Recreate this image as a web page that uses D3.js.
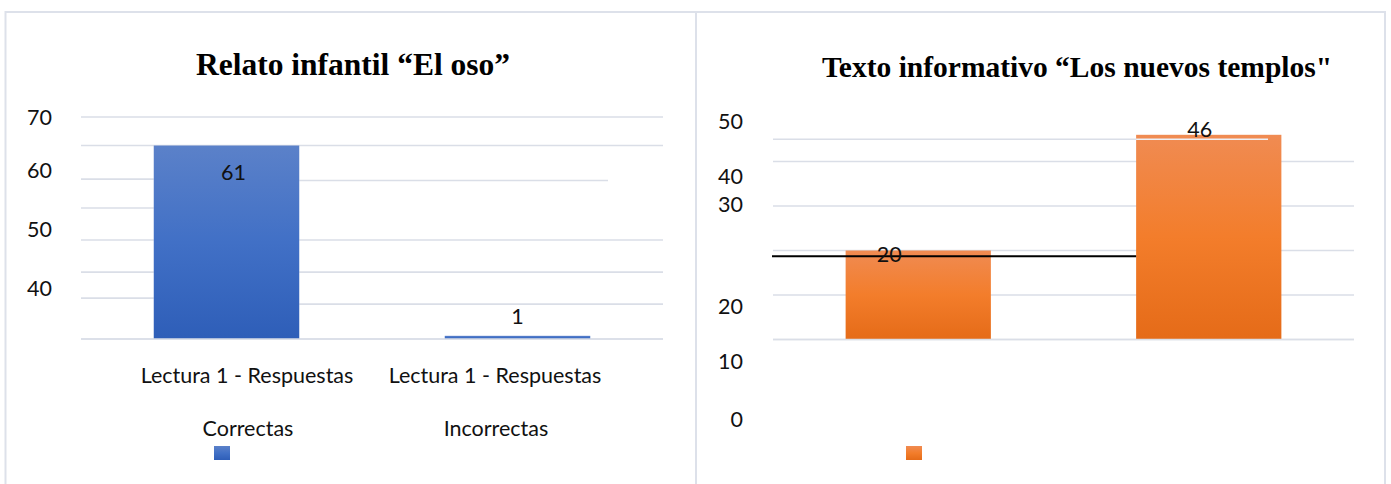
<!DOCTYPE html>
<html>
<head>
<meta charset="utf-8">
<script src="https://cdn.jsdelivr.net/npm/d3@7"></script>
<style>
  html, body { margin: 0; padding: 0; background: #fff; }
  svg { display: block; }
  .lbl { font-family: Lato, "Open Sans", sans-serif; font-size: 21.5px; fill: #111; }
  .title { font-family: "Liberation Serif", "Times New Roman", serif; font-weight: bold; fill: #000; }
  .grid { stroke: #dadee7; stroke-width: 1.6; }
</style>
</head>
<body>
<svg id="svg" width="1391" height="484"></svg>
<script>
// datos: gráfico izquierdo
const osoTitle = 'Relato infantil “El oso”';
const osoCategories = ['Correctas', 'Incorrectas'];
const osoLine1 = 'Lectura 1 - Respuestas';
const osoValues = [61, 1];
const osoTicks = [70, 60, 50, 40];
const osoGridLeft = [70, 61, 50.4, 41.3, 31.2, 21.1, 12.9, 0];
const osoGridRight = [70, 61, 50, 31.2, 21.1, 11, 0];

// datos: gráfico derecho
const templosTitle = 'Texto informativo “Los nuevos templos"';
const templosCategories = ['A', 'B'];
const templosValues = [20, 46];
const templosTicks = [50, 40, 30, 20, 10, 0];
const templosGrid = [40, 30, 20, 10, 0];
const templosOddLine = 45;
const templosBlackLine = 18.7;

const svg = d3.select('#svg');
const defs = svg.append('defs');

function gradient(id, stops) {
  const g = defs.append('linearGradient').attr('id', id)
    .attr('x1', 0).attr('y1', 0).attr('x2', 0).attr('y2', 1);
  stops.forEach(s => g.append('stop').attr('offset', s[0]).attr('stop-color', s[1]));
}
gradient('blue', [[0, '#5b81c9'], [0.5, '#4170c6'], [1, '#2e5eb8']]);
gradient('orange', [[0, '#f08b52'], [0.5, '#f37d2b'], [1, '#e56b18']]);

// marcos
svg.append('path')
  .attr('d', 'M5.5,484 V12 H1385 V484 M696,12 V484')
  .attr('fill', 'none').attr('stroke', '#dde1ea').attr('stroke-width', 2);

// ---------- gráfico izquierdo ----------
{
  const x = d3.scaleBand().domain(osoCategories).range([81, 663]).paddingInner(0.5).paddingOuter(0.25);
  const y = d3.scaleLinear().domain([0, 70]).range([339, 117]);
  const labelY = d3.scaleLinear().domain([40, 50, 60, 70]).range([288, 229, 170, 117]);
  const catX = d3.scalePoint().domain(osoCategories).range([247, 495]);
  const barL = x(osoCategories[0]), barR = barL + x.bandwidth();

  // rejilla (partida a ambos lados de la barra)
  svg.selectAll('.gl').data(osoGridLeft).join('line').attr('class', 'grid')
    .attr('x1', 81).attr('x2', d => d === 70 || d === 61 || d === 0 ? 663 : barL)
    .attr('y1', d => y(d)).attr('y2', d => y(d));
  svg.selectAll('.gr').data(osoGridRight.filter(d => d !== 70 && d !== 61 && d !== 0)).join('line').attr('class', 'grid')
    .attr('x1', barR).attr('x2', d => d === 50 ? 608 : 663)
    .attr('y1', d => y(d)).attr('y2', d => y(d));

  svg.selectAll('.bo').data(osoValues).join('rect')
    .attr('x', (d, i) => x(osoCategories[i]))
    .attr('width', x.bandwidth())
    .attr('y', d => y(d)).attr('height', d => y(0) - y(d))
    .attr('fill', 'url(#blue)');
  svg.append('line').attr('class', 'grid').attr('x1', 81).attr('x2', 663).attr('y1', y(0)).attr('y2', y(0));

  svg.selectAll('.to').data(osoTicks).join('text').attr('class', 'lbl')
    .attr('x', 52).attr('y', d => labelY(d)).attr('dy', '0.35em')
    .attr('text-anchor', 'end').text(d => d);

  const valOffset = [[7, 27], [0, -19]];
  svg.selectAll('.vo').data(osoValues).join('text').attr('class', 'lbl')
    .attr('x', (d, i) => x(osoCategories[i]) + x.bandwidth() / 2 + valOffset[i][0])
    .attr('y', (d, i) => y(d) + valOffset[i][1]).attr('dy', '0.35em')
    .attr('text-anchor', 'middle').text(d => d);

  osoCategories.forEach(c => {
    svg.append('text').attr('class', 'lbl').attr('x', catX(c)).attr('y', 375).attr('dy', '0.35em')
      .attr('text-anchor', 'middle').text(osoLine1);
    svg.append('text').attr('class', 'lbl').attr('x', catX(c) + 1).attr('y', 428).attr('dy', '0.35em')
      .attr('text-anchor', 'middle').text(c);
  });

  svg.append('rect').attr('x', 214).attr('y', 446).attr('width', 16).attr('height', 14).attr('fill', 'url(#blue)');
  svg.append('text').attr('class', 'title').attr('x', 353).attr('y', 75)
    .attr('text-anchor', 'middle').style('font-size', '31.5px').text(osoTitle);
}

// ---------- gráfico derecho ----------
{
  const x = d3.scaleBand().domain(templosCategories).range([773, 1354]).paddingInner(0.5).paddingOuter(0.25);
  const y = d3.scaleLinear().domain([0, 50]).range([339.5, 117]);
  const labelY = d3.scaleLinear().domain([0, 10, 20, 30, 40, 50]).range([419, 361, 306, 204, 176, 121]);

  svg.selectAll('.gt').data(templosGrid).join('line').attr('class', 'grid')
    .attr('x1', 773).attr('x2', 1354)
    .attr('y1', d => y(d)).attr('y2', d => y(d));

  svg.selectAll('.bt').data(templosValues).join('rect')
    .attr('x', (d, i) => x(templosCategories[i]))
    .attr('width', x.bandwidth())
    .attr('y', d => y(d)).attr('height', d => y(0) - y(d))
    .attr('fill', 'url(#orange)');
  svg.append('line').attr('class', 'grid').attr('x1', 773).attr('x2', 1354).attr('y1', y(0)).attr('y2', y(0));

  // línea suelta cerca de 45 (gris fuera de la barra, blanca encima)
  const b2 = x(templosCategories[1]);
  svg.append('line').attr('class', 'grid').attr('x1', 773).attr('x2', b2)
    .attr('y1', y(templosOddLine)).attr('y2', y(templosOddLine));
  svg.append('line').attr('stroke', '#eef0f5').attr('stroke-width', 1.6).attr('x1', b2).attr('x2', 1268)
    .attr('y1', y(templosOddLine)).attr('y2', y(templosOddLine));

  svg.append('line').attr('stroke', '#000').attr('stroke-width', 2)
    .attr('x1', 772).attr('x2', b2)
    .attr('y1', y(templosBlackLine)).attr('y2', y(templosBlackLine));

  svg.selectAll('.tt').data(templosTicks).join('text').attr('class', 'lbl')
    .attr('x', 743).attr('y', d => labelY(d)).attr('dy', '0.35em')
    .attr('text-anchor', 'end').text(d => d);

  const valOffset = [[-29, 4], [-9, -5]];
  svg.selectAll('.vt').data(templosValues).join('text').attr('class', 'lbl')
    .attr('x', (d, i) => x(templosCategories[i]) + x.bandwidth() / 2 + valOffset[i][0])
    .attr('y', (d, i) => y(d) + valOffset[i][1]).attr('dy', '0.35em')
    .attr('text-anchor', 'middle').text(d => d);

  svg.append('rect').attr('x', 906).attr('y', 446).attr('width', 16).attr('height', 14).attr('fill', 'url(#orange)');
  svg.append('text').attr('class', 'title').attr('x', 1077).attr('y', 77)
    .attr('text-anchor', 'middle').style('font-size', '29.5px').text(templosTitle);
}
</script>
</body>
</html>
